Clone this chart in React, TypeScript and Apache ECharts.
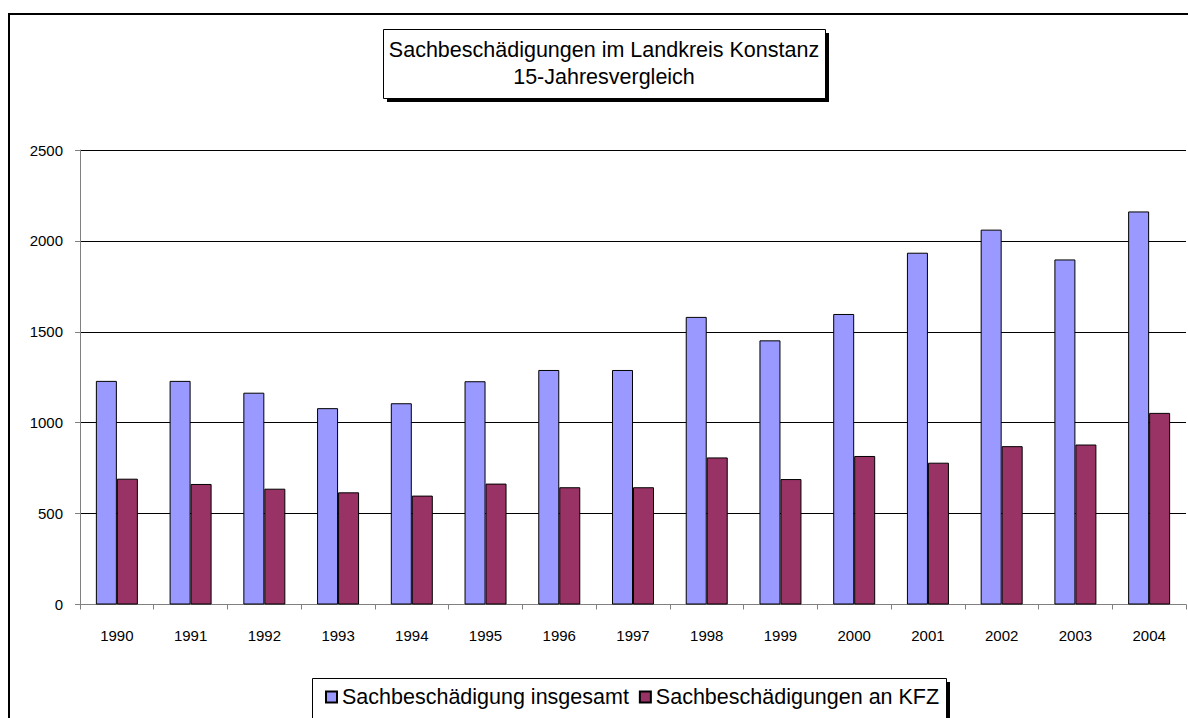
import React, { useEffect, useRef } from "react";
import * as echarts from "echarts";

const years = ["1990","1991","1992","1993","1994","1995","1996","1997","1998","1999","2000","2001","2002","2003","2004"];
const totalDamage = [1230, 1230, 1165, 1080, 1107, 1228, 1290, 1290, 1582, 1453, 1598, 1935, 2062, 1898, 2162];
const vehicleDamage = [692, 663, 637, 617, 599, 665, 645, 645, 809, 690, 817, 780, 871, 880, 1054];
const seriesNames = ["Sachbeschädigung insgesamt", "Sachbeschädigungen an KFZ"];
const titleLines = ["Sachbeschädigungen im Landkreis Konstanz", "15-Jahresvergleich"];

const FONT = "'Liberation Sans', Arial, sans-serif";

export default function App() {
  const ref = useRef<HTMLDivElement>(null);
  useEffect(() => {
    if (!ref.current) return;
    const chart = echarts.init(ref.current, undefined, { renderer: "svg" });
    chart.setOption({
      animation: false,
      backgroundColor: "#ffffff",
      textStyle: { fontFamily: FONT },
      grid: { left: 80, right: 2, top: 150, bottom: 113.5, containLabel: false },
      xAxis: {
        type: "category",
        data: years,
        boundaryGap: true,
        axisLine: { lineStyle: { color: "#808080", width: 1 } },
        axisTick: { show: true, length: 5, alignWithLabel: false, lineStyle: { color: "#808080" } },
        axisLabel: { color: "#000", fontSize: 15, margin: 23, fontFamily: FONT },
        splitLine: { show: false },
      },
      yAxis: {
        type: "value",
        min: 0,
        max: 2500,
        interval: 500,
        axisLine: { show: true, lineStyle: { color: "#808080", width: 1 } },
        axisTick: { show: true, length: 5, lineStyle: { color: "#808080" } },
        axisLabel: { color: "#000", fontSize: 15, margin: 17, fontFamily: FONT, formatter: (v: number) => String(v) },
        splitLine: { show: true, lineStyle: { color: "#000", width: 1 } },
      },
      legend: {
        data: seriesNames,
        left: 325,
        top: 686,
        padding: 0,
        itemGap: 10,
        itemWidth: 11,
        itemHeight: 11,
        icon: "rect",
        z: 10,
        textStyle: { color: "#000", fontSize: 21.5, fontFamily: FONT },
      },
      graphic: [
        { type: "rect", z: 0, shape: { x: 9, y: 14, width: 1300, height: 800 }, style: { fill: "none", stroke: "#000", lineWidth: 2 } },
        { type: "rect", z: 1, shape: { x: 387, y: 33, width: 442, height: 69 }, style: { fill: "#000" } },
        { type: "rect", z: 2, shape: { x: 383.5, y: 29.5, width: 442, height: 69 }, style: { fill: "#fff", stroke: "#000", lineWidth: 1 } },
        { type: "text", z: 3, x: 604, y: 63, style: { text: titleLines.join("\n"), font: `21.5px ${FONT}`, fill: "#000", textAlign: "center", textVerticalAlign: "middle", lineHeight: 27 } },
        { type: "rect", z: 1, shape: { x: 316, y: 682, width: 634, height: 40 }, style: { fill: "#000" } },
        { type: "rect", z: 2, shape: { x: 312.5, y: 678.5, width: 634, height: 40 }, style: { fill: "#fff", stroke: "#000", lineWidth: 1 } },
      ],
      series: [
        {
          name: seriesNames[0],
          type: "bar",
          data: totalDamage,
          barWidth: 21,
          barGap: "0%",
          itemStyle: { color: "#9999FF", borderColor: "#000", borderWidth: 1 },
        },
        {
          name: seriesNames[1],
          type: "bar",
          data: vehicleDamage,
          barWidth: 21,
          barGap: "0%",
          itemStyle: { color: "#993366", borderColor: "#000", borderWidth: 1 },
        },
      ],
    });
    return () => chart.dispose();
  }, []);
  return <div ref={ref} style={{ position: "absolute", left: 0, top: 0, width: 1188, height: 718 }} />;
}
